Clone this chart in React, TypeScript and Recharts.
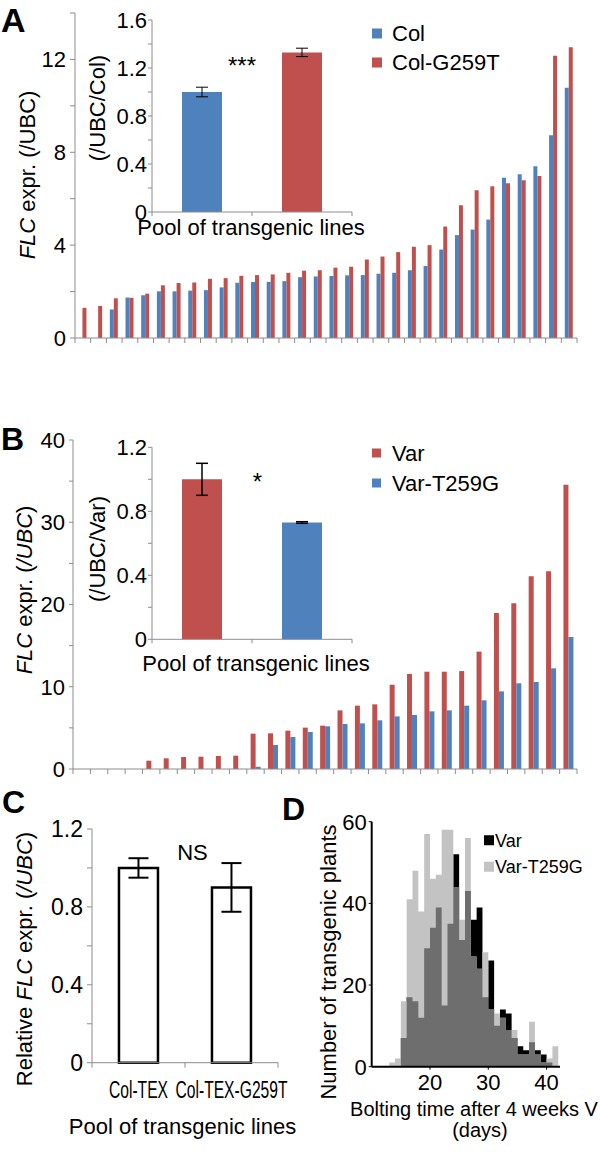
import React from 'react';
import { BarChart, Bar, XAxis, YAxis, ErrorBar, Cell, Legend, ComposedChart, Area } from 'recharts';

const FONT = '"Liberation Sans", Arial, Helvetica, sans-serif';
const BLUE = '#4f81bd';
const RED = '#c0504d';
const AXIS = '#8c8c8c';
const LIGHT = '#c3c3c3';
const DARK = '#6e6e6e';

// Panel A: FLC in 32 independent lines, sorted
const aCol = [null, null, 1.23, 1.75, 1.84, 2.01, 2.01, 2.04, 2.06, 2.18, 2.38, 2.41, 2.42, 2.45, 2.62, 2.65,
  2.67, 2.70, 2.71, 2.77, 2.81, 2.92, 3.10, 3.81, 4.43, 4.67, 5.10, 6.90, 7.05, 7.40, 8.73, 10.78];
const aG259T = [1.30, 1.38, 1.71, 1.73, 1.91, 2.27, 2.37, 2.39, 2.55, 2.58, 2.68, 2.71, 2.74, 2.81, 2.90, 2.92,
  3.03, 3.07, 3.38, 3.51, 3.70, 3.93, 4.00, 4.80, 5.72, 6.37, 6.54, 6.67, 6.80, 6.98, 12.16, 12.53];
const aTicks = [0, 2, 4, 6, 8, 10, 12, 14];

// Panel A inset: pooled lines
const aPoolNames = ['Col', 'Col-G259T'];
const aPoolMean = [1.0, 1.33];
const aPoolErr = [0.04, 0.035];
const aPoolColors = [BLUE, RED];
const aPoolTicks = [0, 0.2, 0.4, 0.6, 0.8, 1, 1.2, 1.4, 1.6];

// Panel B: 29 lines
const bVar = [null, null, null, null, 1.01, 1.30, 1.46, 1.50, 1.58, 1.62, 4.30, 4.34, 4.66, 5.03, 5.27,
  7.13, 7.70, 7.86, 10.25, 11.55, 11.83, 11.83, 11.91, 14.27, 18.97, 20.14, 23.42, 24.03, 34.57];
const bT259G = [null, null, null, null, null, null, null, null, null, null, 0.28, 2.92, 3.89, 4.50, 5.19,
  5.47, 5.55, 5.92, 6.40, 6.57, 7.01, 7.13, 7.70, 8.35, 9.44, 10.42, 10.58, 12.24, 16.05];
const bTicks = [0, 5, 10, 15, 20, 25, 30, 35, 40];

const bPoolNames = ['Var', 'Var-T259G'];
const bPoolMean = [1.0, 0.73];
const bPoolErr = [0.1, 0.005];
const bPoolColors = [RED, BLUE];
const bPoolTicks = [0, 0.2, 0.4, 0.6, 0.8, 1, 1.2];

// Panel C
const cLines = ['Col-TEX', 'Col-TEX-G259T'];
const cMean = [1.0, 0.9];
const cErr = [0.05, 0.125];
const cTicks = [0, 0.2, 0.4, 0.6, 0.8, 1, 1.2];

// Panel D: bolting time histogram (plants per day)
const dDays = [13, 14, 15, 16, 17, 18, 19, 20, 21, 22, 23, 24, 25, 26, 27, 28, 29, 30, 31, 32, 33, 34, 35, 36, 37, 38, 39, 40, 41, 42];
const dVar = [0, 0, 7, 17, 16, 12, 29, 34, 39, 15, 35, 52, 31, 43, 36, 39, 17, 26, 10, 14, 13, 7, 5, 4, 6, 4, 3, 1, 0, 0];
const dT259G = [1, 2, 16, 41, 48, 38, 57, 46, 47, 58, 58, 44, 36, 56, 27, 24, 28, 14, 13, 12, 9, 9, 3, 3, 11, 3, 1, 2, 5, 0];
const dTicksX = [20, 30, 40];
const dTicksY = [0, 20, 40, 60];

const aData = aCol.map((v, i) => ({ line: i + 1, col: v, g259t: aG259T[i] }));
const aPool = aPoolNames.map((n, i) => ({ name: n, v: aPoolMean[i], e: aPoolErr[i] }));
const bData = bVar.map((v, i) => ({ line: i + 1, v, t: bT259G[i] }));
const bPool = bPoolNames.map((n, i) => ({ name: n, v: bPoolMean[i], e: bPoolErr[i] }));
const cData = cLines.map((n, i) => ({ name: n, v: cMean[i], e: cErr[i] }));
const dData = dDays.map((d, i) => ({ day: d, v: dVar[i], t: dT259G[i], both: Math.min(dVar[i], dT259G[i]) }));

const every = (step: number) => (v: number) => (Math.round(v * 10) % Math.round(step * 10) === 0 ? String(v) : '');

// layout of the charts
const A_M = { top: 13, right: 23, bottom: 6, left: 15 };
const B_M = { top: 60, right: 23, bottom: 8, left: 13 };
const IN_M = { top: 20, right: 18, bottom: 8, left: 22 };
const INB_M = { top: 27.3, right: 18, bottom: 12.7, left: 22 };
const C_M = { top: 39, right: 22, bottom: 9.3, left: 22 };
const plotW = (w: number, m: any, yw: number) => w - m.left - m.right - yw;

type Part = { t: string; i?: boolean };

function RotTitle({ x, y, parts, size = 22 }: { x: number; y: number; parts: Part[]; size?: number }) {
  return (
    <text x={x} y={y} transform={`rotate(-90 ${x} ${y})`} textAnchor="middle" fontSize={size} fill="#000">
      {parts.map((p, k) => (
        <tspan key={k} fontStyle={p.i ? 'italic' : 'normal'}>{p.t}</tspan>
      ))}
    </text>
  );
}

function SwatchLegend({ payload, sq, size, rowH, textX }: any) {
  const items = (payload || []).filter((p: any) => p.type !== 'none');
  return (
    <svg width={240} height={rowH * items.length} style={{ display: 'block', overflow: 'visible' }}>
      {items.map((p: any, k: number) => (
        <g key={k}>
          <rect x={0} y={rowH * k + (rowH - sq) / 2} width={sq} height={sq} fill={p.color} />
          <text x={textX} y={rowH * k + rowH / 2 + size * 0.36} fontSize={size} fill="#000">{p.value}</text>
        </g>
      ))}
    </svg>
  );
}

// tick marks sit between categories, optional label under the middle
function EdgeTick({ x, y, index, bw, n, len = 5, labels, labelDy = 0, labelSize = 22, squeeze = 1 }: any) {
  const l = x - bw / 2;
  const r = x + bw / 2;
  return (
    <g>
      <line x1={l} x2={l} y1={y} y2={y + len} stroke={AXIS} />
      {index === n - 1 && <line x1={r} x2={r} y1={y} y2={y + len} stroke={AXIS} />}
      {labels && (
        <g transform={`translate(${x},${y + labelDy})`}>
          <text transform={`scale(${squeeze},1)`} textAnchor="middle" fontSize={labelSize} fill="#000">{labels[index]}</text>
        </g>
      )}
    </g>
  );
}

const tickText = (size: number) => ({ fill: '#000', fontSize: size });

function PanelA() {
  const bw = plotW(600, A_M, 60) / aData.length;
  const ibw = plotW(290, IN_M, 50) / aPool.length;
  return (
    <>
      <div style={{ position: 'absolute', left: 0, top: 0 }}>
        <BarChart width={600} height={352} data={aData} margin={A_M} barGap={0} barCategoryGap="22%">
          <XAxis dataKey="line" height={8} stroke={AXIS} tickLine={false} tickSize={0} tickMargin={0} interval={0}
            tick={(p: any) => <EdgeTick {...p} bw={bw} n={aData.length} />} />
          <YAxis width={60} domain={[0, 14]} ticks={aTicks} interval={0} stroke={AXIS} tickSize={5} tickMargin={4}
            tick={tickText(22)} tickFormatter={(v: number) => (v % 4 === 0 ? String(v) : '')}
            label={() => <RotTitle x={35} y={175} parts={[{ t: 'FLC', i: true }, { t: ' expr. (/UBC)' }]} />} />
          <Legend layout="vertical" align="center" verticalAlign="middle" wrapperStyle={{ left: 372, top: 18.5, width: 240 }}
            content={(p: any) => <SwatchLegend {...p} sq={10} rowH={29} size={22} textX={20} />} />
          <Bar dataKey="col" name="Col" fill={BLUE} isAnimationActive={false} />
          <Bar dataKey="g259t" name="Col-G259T" fill={RED} isAnimationActive={false} />
        </BarChart>
      </div>
      <div style={{ position: 'absolute', left: 80, top: 0 }}>
        <BarChart width={290} height={250} data={aPool} margin={IN_M} barCategoryGap="30%">
          <XAxis dataKey="name" height={30} stroke={AXIS} tickLine={false} tickSize={0} tickMargin={0} interval={0}
            tick={(p: any) => <EdgeTick {...p} bw={ibw} n={aPool.length} len={4} />}
            label={() => <text x={171} y={235} textAnchor="middle" fontSize={22} fill="#000">Pool of transgenic lines</text>} />
          <YAxis width={50} domain={[0, 1.6]} ticks={aPoolTicks} interval={0} stroke={AXIS} tickSize={4} tickMargin={1}
            tick={tickText(22)} tickFormatter={every(0.4)}
            label={() => <RotTitle x={24.5} y={108} parts={[{ t: '(/UBC/Col)' }]} />} />
          <Bar dataKey="v" isAnimationActive={false}>
            {aPool.map((_, i) => <Cell key={i} fill={aPoolColors[i]} />)}
            <ErrorBar dataKey="e" width={6} stroke="#000" strokeWidth={1} direction="y" />
          </Bar>
        </BarChart>
      </div>
    </>
  );
}

function PanelB() {
  const bw = plotW(600, B_M, 60) / bData.length;
  const ibw = plotW(290, INB_M, 50) / bPool.length;
  return (
    <>
      <div style={{ position: 'absolute', left: 0, top: 380 }}>
        <BarChart width={600} height={405} data={bData} margin={B_M} barGap={0} barCategoryGap="22%">
          <XAxis dataKey="line" height={8} stroke={AXIS} tickLine={false} tickSize={0} tickMargin={0} interval={0}
            tick={(p: any) => <EdgeTick {...p} bw={bw} n={bData.length} />} />
          <YAxis width={60} domain={[0, 40]} ticks={bTicks} interval={0} stroke={AXIS} tickSize={4} tickMargin={4}
            tick={tickText(22)} tickFormatter={(v: number) => (v % 10 === 0 ? String(v) : '')}
            label={() => <RotTitle x={32} y={210} parts={[{ t: 'FLC', i: true }, { t: ' expr. (' }, { t: '/UBC', i: true }, { t: ')' }]} />} />
          <Legend layout="vertical" align="center" verticalAlign="middle" wrapperStyle={{ left: 372, top: 57.7, width: 240 }}
            content={(p: any) => <SwatchLegend {...p} sq={9} rowH={30} size={22} textX={20} />} />
          <Bar dataKey="v" name="Var" fill={RED} isAnimationActive={false} />
          <Bar dataKey="t" name="Var-T259G" fill={BLUE} isAnimationActive={false} />
        </BarChart>
      </div>
      <div style={{ position: 'absolute', left: 80, top: 420 }}>
        <BarChart width={290} height={262} data={bPool} margin={INB_M} barCategoryGap="30%">
          <XAxis dataKey="name" height={30} stroke={AXIS} tickLine={false} tickSize={0} tickMargin={0} interval={0}
            tick={(p: any) => <EdgeTick {...p} bw={ibw} n={bPool.length} len={4} />}
            label={() => <text x={176} y={250.7} textAnchor="middle" fontSize={22} fill="#000">Pool of transgenic lines</text>} />
          <YAxis width={50} domain={[0, 1.2]} ticks={bPoolTicks} interval={0} stroke={AXIS} tickSize={4} tickMargin={1}
            tick={tickText(22)} tickFormatter={every(0.4)}
            label={() => <RotTitle x={24.5} y={129} parts={[{ t: '(/UBC/Var)' }]} />} />
          <Bar dataKey="v" isAnimationActive={false}>
            {bPool.map((_, i) => <Cell key={i} fill={bPoolColors[i]} />)}
            <ErrorBar dataKey="e" width={6} stroke="#000" strokeWidth={1.5} direction="y" />
          </Bar>
        </BarChart>
      </div>
    </>
  );
}

function PanelC() {
  const bw = plotW(300, C_M, 70) / cData.length;
  return (
    <div style={{ position: 'absolute', left: 0, top: 790 }}>
      <BarChart width={300} height={362} data={cData} margin={C_M} barCategoryGap="29%">
        <XAxis dataKey="name" height={80} stroke={AXIS} tickLine={false} tickSize={0} tickMargin={0} interval={0}
          tick={(p: any) => <EdgeTick {...p} bw={bw} n={cData.length} labels={cLines} labelDy={35} labelSize={23} squeeze={0.68} />}
          label={() => <text x={182.5} y={344} textAnchor="middle" fontSize={22} fill="#000">Pool of transgenic lines</text>} />
        <YAxis width={70} domain={[0, 1.2]} ticks={cTicks} interval={0} stroke={AXIS} tickSize={5} tickMargin={4}
          tick={tickText(23)} tickFormatter={every(0.4)}
          label={() => <RotTitle x={31.5} y={169} parts={[{ t: 'Relative ' }, { t: 'FLC', i: true }, { t: ' expr. (' }, { t: '/UBC', i: true }, { t: ')' }]} />} />
        <Bar dataKey="v" fill="#fff" stroke="#000" strokeWidth={2.5} isAnimationActive={false}>
          <ErrorBar dataKey="e" width={10} stroke="#000" strokeWidth={2} direction="y" />
        </Bar>
      </BarChart>
    </div>
  );
}

function PanelD() {
  return (
    <div style={{ position: 'absolute', left: 290, top: 790 }}>
      <ComposedChart width={310} height={362} data={dData} margin={{ top: 31.7, right: 40, bottom: 10.3, left: 11.7 }}>
        <XAxis dataKey="day" type="number" domain={[10, 42.3]} ticks={dTicksX} allowDataOverflow interval={0} height={75}
          axisLine={{ stroke: '#000', strokeWidth: 2 }} tickLine={{ stroke: '#000' }} tickSize={3} tickMargin={5}
          tick={tickText(22)}
          label={() => (
            <g fontSize={20} fill="#000" textAnchor="middle">
              <text x={184} y={326}>Bolting time after 4 weeks V</text>
              <text x={190} y={347}>(days)</text>
            </g>
          )} />
        <YAxis width={70} domain={[0, 60]} ticks={dTicksY} interval={0}
          axisLine={{ stroke: '#000', strokeWidth: 2 }} tickLine={{ stroke: '#000' }} tickSize={3} tickMargin={2}
          tick={tickText(22)}
          label={() => <RotTitle x={46} y={172} size={22} parts={[{ t: 'Number of transgenic plants' }]} />} />
        <Legend layout="vertical" align="center" verticalAlign="middle" wrapperStyle={{ left: 194, top: 37.2, width: 120 }}
          content={(p: any) => <SwatchLegend {...p} sq={10} rowH={26.5} size={18} textX={11} />} />
        <Area type="stepAfter" dataKey="v" name="Var" fill="#000" stroke="none" fillOpacity={1} isAnimationActive={false} />
        <Area type="stepAfter" dataKey="t" name="Var-T259G" fill={LIGHT} stroke="none" fillOpacity={1} isAnimationActive={false} />
        <Area type="stepAfter" dataKey="both" name="both" legendType="none" fill={DARK} stroke="none" fillOpacity={1}
          isAnimationActive={false} />
      </ComposedChart>
    </div>
  );
}

export default function App() {
  return (
    <div style={{ position: 'absolute', left: 0, top: 0, width: 600, height: 1152, background: '#fff', fontFamily: FONT, overflow: 'hidden' }}>
      <PanelA />
      <PanelB />
      <PanelC />
      <PanelD />
      <svg width={600} height={1152} style={{ position: 'absolute', left: 0, top: 0, pointerEvents: 'none' }}>
        <g fontWeight="bold" fill="#000">
          <text x={1} y={32} fontSize={34}>A</text>
          <text x={1} y={450} fontSize={32}>B</text>
          <text x={2} y={813} fontSize={32}>C</text>
          <text x={282} y={820} fontSize={32}>D</text>
        </g>
        <g fill="#000" textAnchor="middle">
          <text x={242} y={74} fontSize={24}>***</text>
          <text x={257.5} y={490} fontSize={24}>*</text>
          <text x={192.5} y={860} fontSize={22}>NS</text>
        </g>
      </svg>
    </div>
  );
}
